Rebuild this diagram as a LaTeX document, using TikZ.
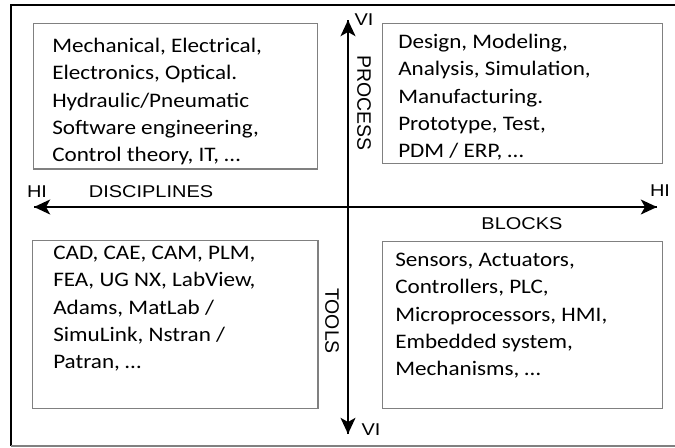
\documentclass[tikz,border=0pt]{standalone}
\usepackage{fontspec}
\setmainfont{Carlito}
\newfontfamily\listfont{Carlito}[FakeStretch=1.12]
\newfontfamily\axisfont{Liberation Sans}[FakeStretch=1.17]
\newfontfamily\sidefont{Liberation Sans}
\usetikzlibrary{arrows.meta}

\begin{document}
\begin{tikzpicture}[x=0.75pt, y=-0.75pt,
    >={Stealth[length=12pt, width=11pt, inset=3pt]},
    box/.style={draw=gray, line width=0.9pt, inner sep=0pt, anchor=north west},
    list/.style={anchor=north west, align=left, inner sep=0pt,
                 font=\listfont\fontsize{15.5}{20.4}\selectfont},
    axis/.style={->, line width=2.2pt},
    tag/.style={font=\axisfont\fontsize{12.8}{15}\selectfont, inner sep=0pt},
    sidetag/.style={font=\sidefont\fontsize{14.6}{16}\selectfont, inner sep=0pt, rotate=-90}]

  \useasboundingbox (0,0) rectangle (675,447);

  % frame
  \draw[line width=1.6pt] (11,446) -- (11,5) -- (675,5);
  \draw[gray, line width=0.9pt] (11,446) -- (675,446);

  % quadrant boxes
  \node[box, minimum width=213pt, minimum height=109pt] (disc) at (33,23)  {};
  \node[box, minimum width=210pt, minimum height=105pt] (proc) at (382,23) {};
  \node[box, minimum width=214pt, minimum height=126pt] (tool) at (32,240) {};
  \node[box, minimum width=210pt, minimum height=125pt] (blk)  at (382,241) {};

  \node[list] (disctxt) at (52,38)  {Mechanical, Electrical,\\Electronics, Optical.\\Hydraulic/Pneumatic\\Software engineering,\\Control theory, IT, \dots};
  \node[list] (proctxt) at (398,34) {Design, Modeling,\\Analysis, Simulation,\\Manufacturing.\\Prototype, Test,\\PDM / ERP, \dots};
  \node[list] (tooltxt) at (53,246) {CAD, CAE, CAM, PLM,\\FEA, UG NX, LabView,\\Adams, MatLab /\\SimuLink, Nstran /\\Patran, \dots};
  \node[list] (blktxt)  at (395,253) {Sensors, Actuators,\\Controllers, PLC,\\Microprocessors, HMI,\\Embedded system,\\Mechanisms, \dots};

  % axes
  \coordinate (hl) at (34,207);
  \coordinate (hr) at (657,207);
  \coordinate (vt) at (348,20);
  \coordinate (vb) at (348,434);
  \draw[axis] (hr) -- (hl);
  \draw[axis] (hl) -- (hr);
  \draw[axis] (vb) -- (vt);
  \draw[axis] (vt) -- (vb);

  % axis labels
  \node[tag] (hileft)  at (37,192)  {HI};
  \node[tag] (hiright) at (660,191) {HI};
  \node[tag] (vitop)   at (364,20)  {VI};
  \node[tag] (vibot)   at (371,430) {VI};
  \node[tag] (discl)   at (151,192) {DISCIPLINES};
  \node[tag] (blkl)    at (522,224) {BLOCKS};
  \node[sidetag] (procl) at (364,103) {PROCESS};
  \node[sidetag] (tooll) at (332,321) {TOOLS};
\end{tikzpicture}
\end{document}
